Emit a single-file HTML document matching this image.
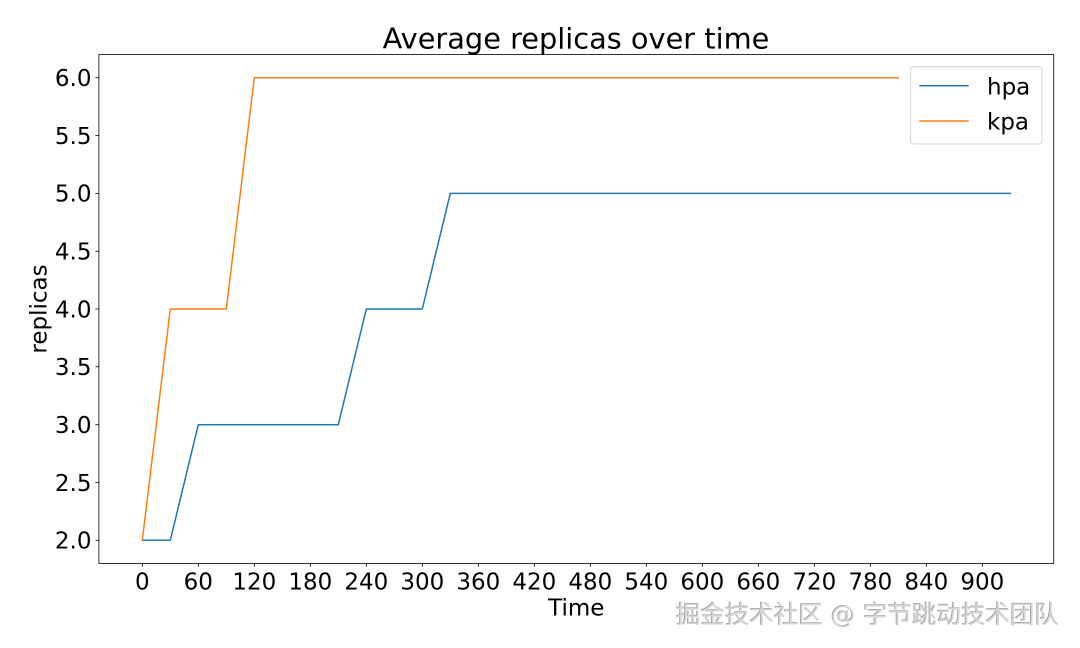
<!DOCTYPE html>
<html>
<head>
<meta charset="utf-8">
<style>
html,body{margin:0;padding:0;background:#fff;}
svg{display:block;}
text{font-family:"DejaVu Sans","Liberation Sans",sans-serif;}
</style>
</head>
<body>
<svg width="1080" height="648" viewBox="0 0 1080 648" xmlns="http://www.w3.org/2000/svg">
<rect x="0" y="0" width="1080" height="648" fill="#fff"/>
<!-- title -->
<text x="576" y="48.3" font-size="28.8" text-anchor="middle" fill="#000">Average replicas over time</text>

<!-- series -->
<polyline fill="none" stroke="#1f77b4" stroke-width="1.5" stroke-linejoin="round" stroke-linecap="square"
 points="142.3,540.3 170.3,540.3 198.3,424.7 338.3,424.7 366.3,309.0 422.3,309.0 450.3,193.4 1010.3,193.4"/>
<polyline fill="none" stroke="#ff7f0e" stroke-width="1.5" stroke-linejoin="round" stroke-linecap="square"
 points="142.3,540.3 170.3,309.0 226.3,309.0 254.3,77.7 898.3,77.7"/>

<!-- spines -->
<rect x="98.9" y="54.6" width="954.8" height="508.8" fill="none" stroke="#000" stroke-width="0.8"/>

<!-- y ticks -->
<g stroke="#000" stroke-width="0.8">
<line x1="95.4" y1="540.3" x2="98.9" y2="540.3"/>
<line x1="95.4" y1="482.5" x2="98.9" y2="482.5"/>
<line x1="95.4" y1="424.7" x2="98.9" y2="424.7"/>
<line x1="95.4" y1="366.8" x2="98.9" y2="366.8"/>
<line x1="95.4" y1="309.0" x2="98.9" y2="309.0"/>
<line x1="95.4" y1="251.2" x2="98.9" y2="251.2"/>
<line x1="95.4" y1="193.4" x2="98.9" y2="193.4"/>
<line x1="95.4" y1="135.5" x2="98.9" y2="135.5"/>
<line x1="95.4" y1="77.7" x2="98.9" y2="77.7"/>
</g>
<g font-size="23" text-anchor="end" fill="#000">
<text x="91.5" y="548.6">2.0</text>
<text x="91.5" y="490.8">2.5</text>
<text x="91.5" y="433.0">3.0</text>
<text x="91.5" y="375.1">3.5</text>
<text x="91.5" y="317.3">4.0</text>
<text x="91.5" y="259.5">4.5</text>
<text x="91.5" y="201.7">5.0</text>
<text x="91.5" y="143.8">5.5</text>
<text x="91.5" y="86.0">6.0</text>
</g>

<!-- x ticks -->
<g stroke="#000" stroke-width="0.8">
<line x1="142.3" y1="563.4" x2="142.3" y2="566.9"/>
<line x1="198.3" y1="563.4" x2="198.3" y2="566.9"/>
<line x1="254.3" y1="563.4" x2="254.3" y2="566.9"/>
<line x1="310.3" y1="563.4" x2="310.3" y2="566.9"/>
<line x1="366.3" y1="563.4" x2="366.3" y2="566.9"/>
<line x1="422.3" y1="563.4" x2="422.3" y2="566.9"/>
<line x1="478.3" y1="563.4" x2="478.3" y2="566.9"/>
<line x1="534.3" y1="563.4" x2="534.3" y2="566.9"/>
<line x1="590.3" y1="563.4" x2="590.3" y2="566.9"/>
<line x1="646.3" y1="563.4" x2="646.3" y2="566.9"/>
<line x1="702.3" y1="563.4" x2="702.3" y2="566.9"/>
<line x1="758.3" y1="563.4" x2="758.3" y2="566.9"/>
<line x1="814.3" y1="563.4" x2="814.3" y2="566.9"/>
<line x1="870.3" y1="563.4" x2="870.3" y2="566.9"/>
<line x1="926.3" y1="563.4" x2="926.3" y2="566.9"/>
<line x1="982.3" y1="563.4" x2="982.3" y2="566.9"/>
</g>
<g font-size="23" text-anchor="middle" fill="#000">
<text x="142.3" y="589.6">0</text>
<text x="198.3" y="589.6">60</text>
<text x="254.3" y="589.6">120</text>
<text x="310.3" y="589.6">180</text>
<text x="366.3" y="589.6">240</text>
<text x="422.3" y="589.6">300</text>
<text x="478.3" y="589.6">360</text>
<text x="534.3" y="589.6">420</text>
<text x="590.3" y="589.6">480</text>
<text x="646.3" y="589.6">540</text>
<text x="702.3" y="589.6">600</text>
<text x="758.3" y="589.6">660</text>
<text x="814.3" y="589.6">720</text>
<text x="870.3" y="589.6">780</text>
<text x="926.3" y="589.6">840</text>
<text x="982.3" y="589.6">900</text>
</g>

<!-- axis labels -->
<text x="576.3" y="615.5" font-size="23" text-anchor="middle" fill="#000">Time</text>
<text transform="translate(46.5,309) rotate(-90)" x="0" y="0" font-size="23" text-anchor="middle" fill="#000">replicas</text>

<!-- legend -->
<rect x="910.7" y="66.7" width="131.3" height="77.3" rx="3" ry="3" fill="#fff" fill-opacity="0.8" stroke="#cccccc" stroke-width="0.8"/>
<line x1="919.3" y1="85.7" x2="968.7" y2="85.7" stroke="#1f77b4" stroke-width="1.5"/>
<line x1="919.3" y1="121" x2="968.7" y2="121" stroke="#ff7f0e" stroke-width="1.5"/>
<text x="987" y="94.3" font-size="23" fill="#000">hpa</text>
<text x="987" y="129.6" font-size="23" fill="#000">kpa</text>

<!-- watermark -->
<g font-size="24.5" style="font-family:'Liberation Sans','Noto Sans CJK SC',sans-serif;font-weight:normal;">
<text x="676.8" y="623.8" style="fill:#ffffff;">掘金技术社区 @ 字节跳动技术团队</text>
<text x="675.4" y="622.4" style="fill:#8a8a8a;">掘金技术社区 @ 字节跳动技术团队</text>
<text x="676" y="623" style="fill:#d6d6d6;">掘金技术社区 @ 字节跳动技术团队</text>
</g>
</svg>
</body>
</html>
